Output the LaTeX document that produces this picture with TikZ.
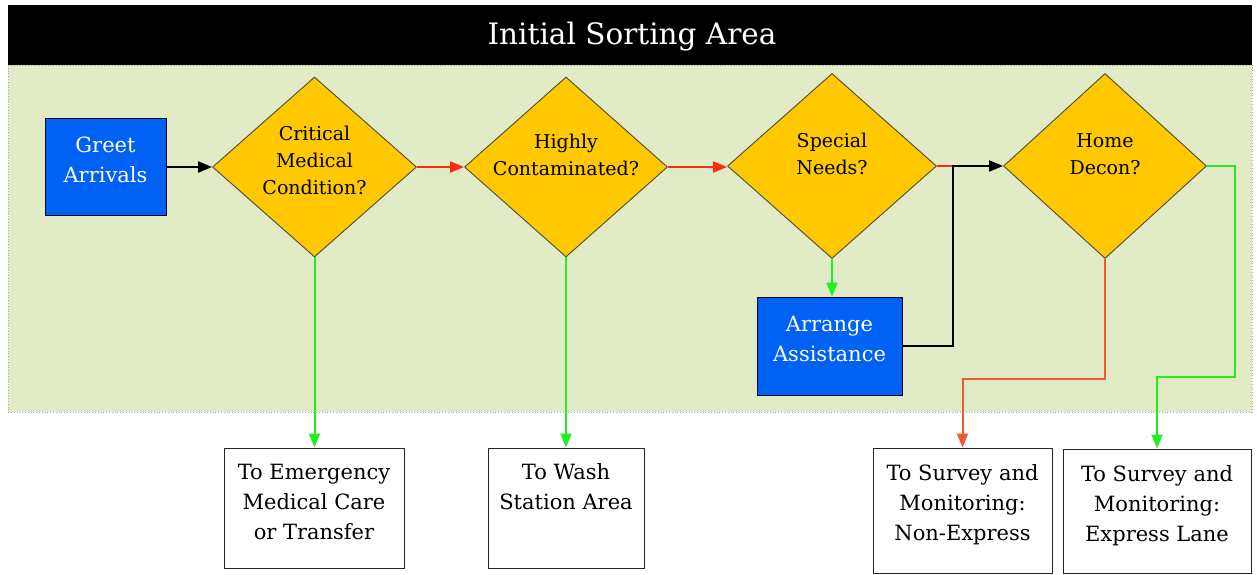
\documentclass[tikz,border=0pt]{standalone}
\usepackage{fontspec}
\setmainfont{DejaVu Serif}
\usetikzlibrary{arrows.meta,shapes.geometric}
\definecolor{areagreen}{HTML}{E1EBC5}
\definecolor{boxblue}{HTML}{0062F4}
\definecolor{diayellow}{HTML}{FFC800}
\definecolor{arrred}{HTML}{FF2A10}
\definecolor{arrorange}{HTML}{F05A30}
\definecolor{arrgreen}{HTML}{22EE22}
\tikzset{
  >={Triangle[length=14pt,width=11pt]},
  areabox/.style={draw=gray!70, dotted, line width=0.8pt, fill=areagreen},
  bluebox/.style={draw=black!85!blue, line width=1pt, fill=boxblue, rectangle, inner sep=0pt},
  decision/.style={draw=black!80!yellow, line width=0.9pt, fill=diayellow, diamond, inner sep=0pt},
  destbox/.style={draw=black!85, line width=1pt, fill=white, rectangle, inner sep=0pt},
  bluetxt/.style={text=white, align=center, font=\fontsize{21}{30}\selectfont},
  diatxt/.style={text=black, align=center, font=\fontsize{19}{27}\selectfont},
  desttxt/.style={text=black, align=center, font=\fontsize{21}{30}\selectfont},
  flow/.style={line width=2pt},
}
\begin{document}
\begin{tikzpicture}[x=1pt,y=-1pt]
\useasboundingbox[fill=white] (0,0) rectangle (1257,574);
% area
\path[areabox] (8,65) rectangle (1252,412);
\fill[black] (8,5) rectangle (1252,65);
\node[text=white, font=\fontsize{29.5}{32}\selectfont] (title) at (632,37) {Initial Sorting Area};
% nodes
\node[bluebox, minimum width=121pt, minimum height=97pt,
      label={[bluetxt,yshift=7pt]center:{Greet\\Arrivals}}] (greet) at (105.5,167) {};
\node[decision, minimum width=204pt, minimum height=180pt,
      label={[diatxt,yshift=7pt]center:{Critical\\Medical\\Condition?}}] (d1) at (314.5,167) {};
\node[decision, minimum width=203pt, minimum height=180pt,
      label={[diatxt,yshift=12pt]center:{Highly\\Contaminated?}}] (d2) at (566,167) {};
\node[decision, minimum width=209pt, minimum height=185pt,
      label={[diatxt,yshift=12pt]center:{Special\\Needs?}}] (d3) at (832,166) {};
\node[decision, minimum width=203pt, minimum height=185pt,
      label={[diatxt,yshift=12pt]center:{Home\\Decon?}}] (d4) at (1105,166) {};
\node[bluebox, minimum width=145pt, minimum height=98pt,
      label={[bluetxt,yshift=7pt]center:{Arrange\\Assistance}}] (arr) at (829.5,346) {};
\node[destbox, minimum width=180pt, minimum height=120pt,
      label={[desttxt,anchor=north,yshift=-13pt]north:{To Emergency\\Medical Care\\or Transfer}}] (emerg) at (314,508) {};
\node[destbox, minimum width=156pt, minimum height=120pt,
      label={[desttxt,anchor=north,yshift=-13pt]north:{To Wash\\Station Area}}] (wash) at (566,508) {};
\node[destbox, minimum width=179pt, minimum height=125pt,
      label={[desttxt,anchor=north,yshift=-13pt]north:{To Survey and\\Monitoring:\\Non-Express}}] (nonexp) at (962.5,510.5) {};
\node[destbox, minimum width=188pt, minimum height=124pt,
      label={[desttxt,anchor=north,yshift=-13pt]north:{To Survey and\\Monitoring:\\Express Lane}}] (expr) at (1157,511) {};
\coordinate (j) at (953,166);
% connectors
\draw[flow,->,black] (greet.east) -- (d1.west);
\draw[flow,->,arrred] (d1.east) -- (d2.west);
\draw[flow,->,arrred] (d2.east) -- (d2.east -| d3.west);
\draw[flow,arrred] (d3.east) -- (j);
\draw[flow,->,black] (arr.east) -| (j) -- (d4.west);
\draw[flow,->,arrgreen] (d3.south) -- (d3.south |- arr.north);
\draw[flow,->,arrgreen] (d1.south) -- (d1.south |- emerg.north);
\draw[flow,->,arrgreen] (d2.south) -- (wash.north);
\draw[flow,->,arrorange] (d4.south) -- (1105,379) -| (nonexp.north);
\draw[flow,->,arrgreen] (d4.east) -- (1235,166) |- (1157,377) -- (expr.north);
\end{tikzpicture}
\end{document}
